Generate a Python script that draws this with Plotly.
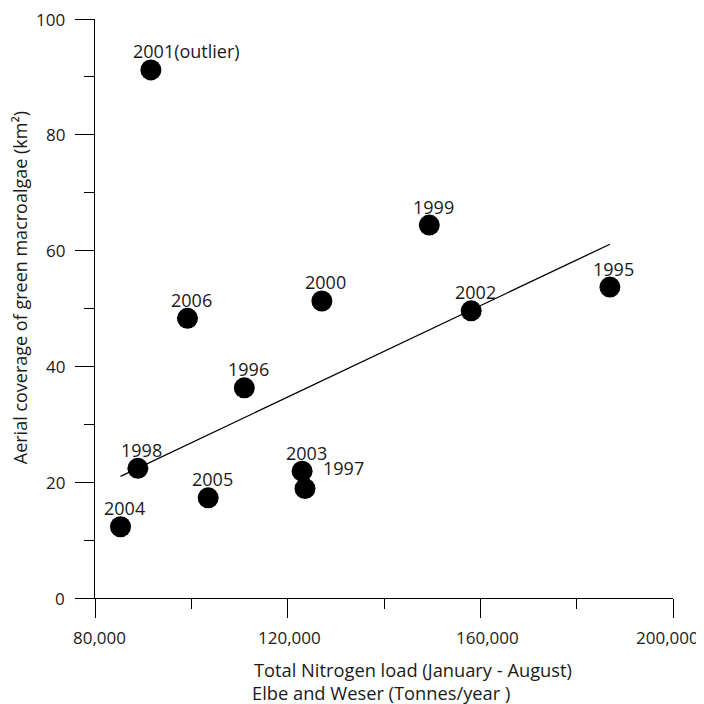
import plotly.graph_objects as go

# ---- data ----
years = ["2001(outlier)", "2006", "2000", "1999", "2002", "1995",
         "1996", "1998", "2005", "2004", "2003", "1997"]
nitrogen_load = [91600, 99200, 127100, 149400, 158100, 186900,
                 111000, 88900, 103500, 85300, 123000, 123600]
green_coverage = [91.2, 48.3, 51.3, 64.4, 49.6, 53.7,
                  36.3, 22.4, 17.3, 12.3, 21.9, 18.9]
trend_x = [85300, 186900]
trend_y = [21.0, 61.1]
x_tick_vals = [80000, 120000, 160000, 200000]
x_tick_text = ["80,000", "120,000", "160,000", "200,000"]
y_tick_vals = [0, 20, 40, 60, 80, 100]
y_tick_text = ["0", "20", "40", "60", "80", "100"]

# label offsets (px): style only
label_shift = {"2001(outlier)": (36, 18.5), "1997": (38, 21)}
default_shift = (4, 18.5)
x_tick_label_dx = [4, 2, 7, -6]

FONT = "Open Sans"
TXT = "#1a1a1a"

fig = go.Figure()
fig.add_trace(go.Scatter(x=trend_x, y=trend_y, mode="lines",
                         line=dict(color="black", width=1.3),
                         hoverinfo="skip", showlegend=False))
fig.add_trace(go.Scatter(x=nitrogen_load, y=green_coverage, mode="markers",
                         marker=dict(color="black", size=21, line=dict(width=0)),
                         text=years, showlegend=False))

for yr, xv, yv in zip(years, nitrogen_load, green_coverage):
    dx, dy = label_shift.get(yr, default_shift)
    fig.add_annotation(x=xv, y=yv, xref="x", yref="y", text=yr,
                       showarrow=False, xanchor="center", yanchor="middle",
                       xshift=dx, yshift=dy,
                       font=dict(family=FONT, size=18, color=TXT))

# tick labels (placed at the axis tick values)
for tv, tt, dx in zip(x_tick_vals, x_tick_text, x_tick_label_dx):
    fig.add_annotation(x=tv, y=0, xref="x", yref="paper", text=tt,
                       showarrow=False, xanchor="center", yanchor="middle",
                       xshift=dx, yshift=-39,
                       font=dict(family=FONT, size=17, color=TXT))
for tv, tt in zip(y_tick_vals, y_tick_text):
    fig.add_annotation(x=0, y=tv, xref="paper", yref="y", text=tt,
                       showarrow=False, xanchor="right", yanchor="middle",
                       xshift=-28, yshift=0,
                       font=dict(family=FONT, size=17, color=TXT))

fig.add_annotation(xref="paper", yref="paper", x=0, y=0.535, xshift=-75,
                   text="Aerial coverage of green macroalgae (km²)",
                   textangle=-90, showarrow=False, xanchor="center", yanchor="middle",
                   font=dict(family=FONT, size=18, color=TXT))
fig.add_annotation(xref="paper", yref="paper", x=0, y=0, xshift=412.5 - 95, yshift=-(669 - 598),
                   text="Total Nitrogen load (January - August)",
                   showarrow=False, xanchor="center", yanchor="middle",
                   font=dict(family=FONT, size=18.3, color=TXT))
fig.add_annotation(xref="paper", yref="paper", x=0, y=0, xshift=381 - 95, yshift=-(692 - 598),
                   text="Elbe and Weser (Tonnes/year )",
                   showarrow=False, xanchor="center", yanchor="middle",
                   font=dict(family=FONT, size=18.3, color=TXT))

axis_common = dict(showline=True, linecolor="black", linewidth=1.3,
                   ticks="outside", ticklen=19, tickwidth=1.3, tickcolor="black",
                   showgrid=False, zeroline=False, automargin=False,
                   showticklabels=False,
                   minor=dict(ticks="outside", ticklen=10, tickwidth=1.3,
                              tickcolor="black", showgrid=False))

fig.update_xaxes(range=[80000, 200000], tickvals=x_tick_vals,
                 minor_dtick=20000, **axis_common)
fig.update_yaxes(range=[0, 100], tickvals=y_tick_vals, minor_dtick=10, **axis_common)

# page body has an 8px default margin, so the figure is 696 px and margins are offset
fig.update_layout(width=696, height=696, plot_bgcolor="white", paper_bgcolor="white",
                  margin=dict(l=87, r=31, t=11, b=106), showlegend=False,
                  font=dict(family=FONT, color=TXT))

fig.write_html("out.html")
